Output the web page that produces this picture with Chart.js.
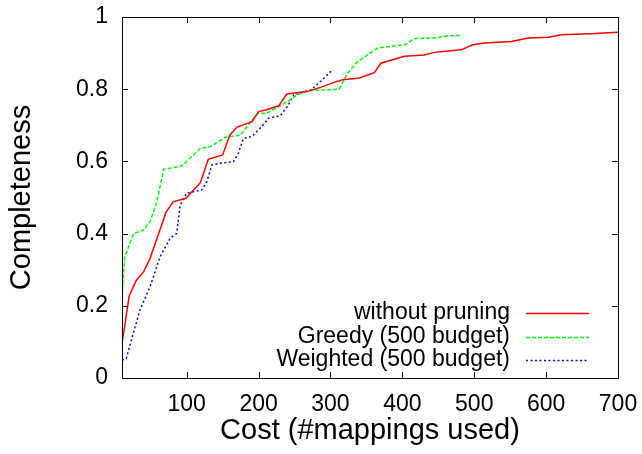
<!DOCTYPE html>
<html>
<head>
<meta charset="utf-8">
<script src="https://cdn.jsdelivr.net/npm/chart.js@4"></script>
<style>
  body { margin: 0; background: #fff; }
</style>
</head>
<body>
<canvas id="costChart" width="642" height="454"></canvas>
<script>
// cost (#mappings used) / completeness
const costNoPrune = [10, 20, 30, 40, 49, 61, 71, 81, 99, 119, 130, 150, 160, 170, 191, 200, 211, 228, 239, 247, 268, 286, 305, 317, 340, 361, 370, 403, 430, 445, 463, 482, 498, 514, 552, 575, 603, 621, 668, 700];
const complNoPrune = [0.095, 0.227, 0.271, 0.294, 0.331, 0.40, 0.458, 0.488, 0.498, 0.541, 0.606, 0.618, 0.673, 0.695, 0.710, 0.738, 0.743, 0.754, 0.786, 0.789, 0.794, 0.805, 0.819, 0.826, 0.831, 0.846, 0.872, 0.891, 0.895, 0.902, 0.906, 0.909, 0.923, 0.928, 0.932, 0.942, 0.944, 0.951, 0.954, 0.958];

const costGreedy = [10, 14, 21, 26, 40, 49, 58, 65, 68, 93, 119, 133, 154, 175, 198, 212, 230, 245, 254, 268, 291, 312, 324, 338, 366, 403, 417, 445, 463, 482];
const complGreedy = [0.226, 0.336, 0.373, 0.40, 0.41, 0.433, 0.484, 0.549, 0.578, 0.587, 0.636, 0.641, 0.667, 0.673, 0.732, 0.734, 0.754, 0.772, 0.784, 0.796, 0.798, 0.800, 0.845, 0.877, 0.914, 0.923, 0.94, 0.942, 0.948, 0.949];

const costWeighted = [10, 16, 23, 35, 49, 63, 77, 86, 91, 100, 121, 128, 135, 147, 165, 172, 179, 191, 205, 214, 230, 240, 249, 273, 286, 303];
const complWeighted = [0.049, 0.054, 0.105, 0.188, 0.253, 0.336, 0.387, 0.40, 0.479, 0.512, 0.521, 0.544, 0.590, 0.595, 0.599, 0.623, 0.664, 0.669, 0.698, 0.720, 0.726, 0.752, 0.784, 0.798, 0.821, 0.854];

const seriesNames = ["without pruning", "Greedy (500 budget)", "Weighted (500 budget)"];
const xTicks = [100, 200, 300, 400, 500, 600, 700];
const yTicks = [0, 0.2, 0.4, 0.6, 0.8, 1];

const FONT = "'Liberation Sans', Arial, sans-serif";

function toPoints(xs, ys) {
  return xs.map((x, i) => ({ x: x, y: ys[i] }));
}

// gnuplot style frame, inward ticks on all sides, legend inside bottom right
const gnuFrame = {
  id: "gnuFrame",
  afterDatasetsDraw(chart) {
    const ctx = chart.ctx;
    const a = chart.chartArea;
    const xs = chart.scales.x, ys = chart.scales.y;
    const tl = 6;
    ctx.save();
    ctx.strokeStyle = "#000";
    ctx.lineWidth = 1;
    ctx.beginPath();
    xTicks.forEach(v => {
      const px = Math.round(xs.getPixelForValue(v)) + 0.5;
      ctx.moveTo(px, a.bottom); ctx.lineTo(px, a.bottom - tl);
      ctx.moveTo(px, a.top); ctx.lineTo(px, a.top + tl);
    });
    yTicks.forEach(v => {
      const py = Math.round(ys.getPixelForValue(v)) + 0.5;
      ctx.moveTo(a.left, py); ctx.lineTo(a.left + tl, py);
      ctx.moveTo(a.right, py); ctx.lineTo(a.right - tl, py);
    });
    ctx.stroke();
    ctx.strokeRect(Math.round(a.left) + 0.5, Math.round(a.top) + 0.5,
                   Math.round(a.right - a.left), Math.round(a.bottom - a.top));

    // legend
    ctx.font = "23px " + FONT;
    ctx.textAlign = "right";
    ctx.textBaseline = "middle";
    const textRight = a.right - 108;
    const lineStart = a.right - 92, lineEnd = a.right - 29;
    chart.data.datasets.forEach((ds, i) => {
      const y = a.bottom - 65 + i * 23.5;
      ctx.fillStyle = "#000";
      ctx.fillText(ds.label, textRight, y);
      ctx.strokeStyle = ds.borderColor;
      ctx.lineWidth = ds.borderWidth;
      ctx.setLineDash(ds.borderDash || []);
      ctx.beginPath();
      ctx.moveTo(lineStart, Math.round(y) + 0.5);
      ctx.lineTo(lineEnd, Math.round(y) + 0.5);
      ctx.stroke();
      ctx.setLineDash([]);
    });
    ctx.restore();
  }
};

new Chart(document.getElementById("costChart").getContext("2d"), {
  type: "line",
  data: {
    datasets: [
      {
        label: seriesNames[0],
        data: toPoints(costNoPrune, complNoPrune),
        borderColor: "#ff0000",
        borderWidth: 1.5,
        pointRadius: 0,
        tension: 0
      },
      {
        label: seriesNames[1],
        data: toPoints(costGreedy, complGreedy),
        borderColor: "#00ff00",
        borderWidth: 1.5,
        borderDash: [4, 2],
        pointRadius: 0,
        tension: 0
      },
      {
        label: seriesNames[2],
        data: toPoints(costWeighted, complWeighted),
        borderColor: "#0000ff",
        borderWidth: 1.5,
        borderDash: [2, 2.5],
        pointRadius: 0,
        tension: 0
      }
    ]
  },
  options: {
    responsive: false,
    animation: false,
    layout: { padding: { top: 17, right: 24, left: 0, bottom: 0 } },
    plugins: {
      legend: { display: false },
      tooltip: { enabled: false }
    },
    scales: {
      x: {
        type: "linear",
        min: 10,
        max: 700,
        afterBuildTicks: s => { s.ticks = xTicks.map(v => ({ value: v })); },
        afterFit: s => { s.height = 76; s.paddingLeft = 0; s.paddingRight = 0; },
        grid: { display: false, drawTicks: false },
        border: { display: false },
        ticks: {
          padding: 13,
          color: "#000",
          maxRotation: 0,
          font: { family: FONT, size: 23 }
        },
        title: {
          display: true,
          text: "Cost (#mappings used)",
          color: "#000",
          font: { family: FONT, size: 29 },
          padding: { top: 0, bottom: 6 }
        }
      },
      y: {
        min: 0,
        max: 1,
        afterBuildTicks: s => { s.ticks = yTicks.map(v => ({ value: v })); },
        afterFit: s => { s.width = 122; s.paddingTop = 0; s.paddingBottom = 0; },
        grid: { display: false, drawTicks: false },
        border: { display: false },
        ticks: {
          padding: 14,
          color: "#000",
          font: { family: FONT, size: 23 },
          callback: v => String(v)
        },
        title: {
          display: true,
          text: "Completeness",
          color: "#000",
          font: { family: FONT, size: 29 },
          padding: { top: 5, bottom: 0 }
        }
      }
    }
  },
  plugins: [gnuFrame]
});
</script>
</body>
</html>
